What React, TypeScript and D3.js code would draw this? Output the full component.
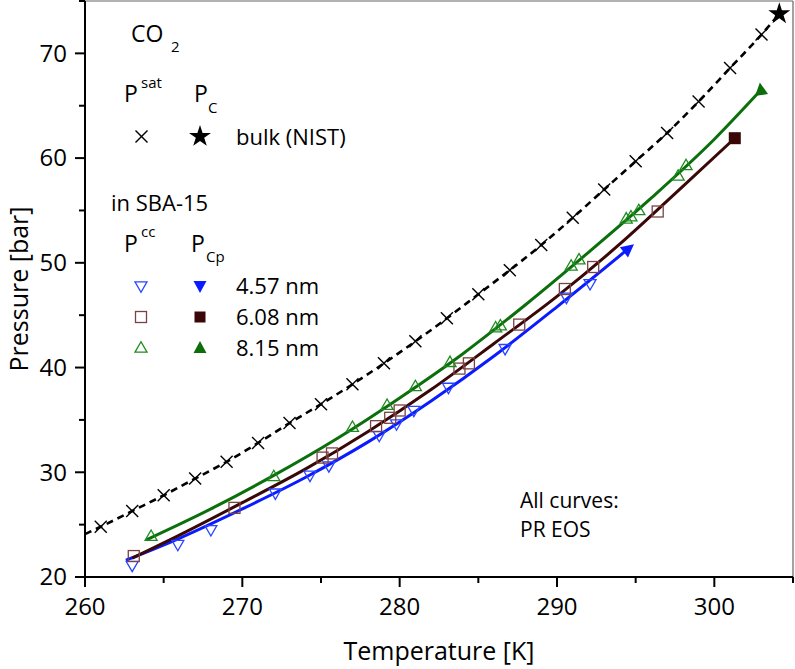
import React from 'react';
import * as d3 from 'd3';

// ---------- data ----------
const xMajorTicks = [260, 270, 280, 290, 300];
const xMinorTicks = [265, 275, 285, 295, 305];
const yMajorTicks = [20, 30, 40, 50, 60, 70];
const yMinorTicks = [25, 35, 45, 55, 65, 75];

// bulk saturation pressure (NIST)
const psatT = [261, 263, 265, 267, 269, 271, 273, 275, 277, 279, 281, 283, 285, 287, 289, 291, 293, 295, 297, 299, 301, 303];
const psatP = [24.8, 26.3, 27.8, 29.4, 31.0, 32.8, 34.7, 36.5, 38.4, 40.4, 42.5, 44.7, 47.0, 49.3, 51.7, 54.3, 57.0, 59.7, 62.4, 65.4, 68.6, 71.8];
// dashed curve (PR EOS, bulk)
const bulkCurveT = [260, 261, 263, 265, 267, 269, 271, 273, 275, 277, 279, 281, 283, 285, 287, 289, 291, 293, 295, 297, 299, 301, 303, 304.13];
const bulkCurveP = [24.1, 24.8, 26.3, 27.8, 29.4, 31.0, 32.8, 34.7, 36.5, 38.4, 40.4, 42.5, 44.7, 47.0, 49.3, 51.7, 54.3, 57.0, 59.7, 62.4, 65.4, 68.6, 71.8, 73.77];
const bulkCritT = 304.13;
const bulkCritP = 73.77;

// 4.57 nm
const p457T = [263.0, 265.9, 268.0, 272.1, 274.3, 275.5, 278.7, 279.8, 280.9, 283.1, 286.7, 290.6, 292.1];
const p457P = [21.1, 23.1, 24.5, 28.0, 29.7, 30.6, 33.5, 34.6, 35.9, 38.1, 41.8, 46.7, 48.0];
const c457T = 294.5;
const c457P = 51.3;
const curve457T = [262.6, 266, 270, 274, 278, 282, 286, 290, 294.5];
const curve457P = [21.6, 23.7, 26.5, 29.5, 32.9, 36.8, 41.1, 45.8, 51.3];

// 6.08 nm
const p608T = [263.1, 269.5, 275.1, 275.7, 278.5, 279.4, 280.0, 283.8, 284.4, 287.6, 290.5, 292.3, 296.4];
const p608P = [22.0, 26.6, 31.4, 31.8, 34.4, 35.2, 35.9, 39.9, 40.4, 44.1, 47.5, 49.6, 54.9];
const c608T = 301.3;
const c608P = 61.9;
const curve608T = [263.0, 266, 270, 274, 278, 282, 286, 290, 294, 298, 301.3];
const curve608P = [21.8, 24.0, 27.1, 30.3, 33.9, 37.9, 42.3, 46.8, 51.8, 57.3, 61.9];

// 8.15 nm
const p815T = [264.2, 272.0, 277.0, 279.2, 281.0, 283.2, 286.1, 286.4, 290.9, 291.4, 294.4, 294.7, 295.2, 297.7, 298.2];
const p815P = [23.9, 29.6, 34.3, 36.4, 38.2, 40.5, 43.8, 44.0, 49.7, 50.3, 54.2, 54.4, 55.0, 58.3, 59.3];
const c815T = 302.96;
const c815P = 66.5;
const curve815T = [263.9, 268, 272, 276, 280, 284, 288, 292, 296, 300, 302.96];
const curve815P = [23.55, 26.5, 29.7, 33.2, 37.1, 41.3, 46.0, 51.0, 56.2, 61.8, 66.5];

const legendSizes = ['4.57 nm', '6.08 nm', '8.15 nm'];

// ---------- styling ----------
const FONT = '"Open Sans", "Noto Sans", sans-serif';
const BLUE_LINE = '#0a1cff';
const BLUE_OPEN = '#2a45ff';
const BROWN_LINE = '#3a0808';
const BROWN_OPEN = '#7a4242';
const BROWN_FILL = '#3a0606';
const GREEN_LINE = '#0b700b';
const GREEN_OPEN = '#1f8a1f';
const GREEN_FILL = '#0b6e0b';

const W = 795;
const H = 669;
const x = d3.scaleLinear().domain([260, 305]).range([85, 793]);
const y = d3.scaleLinear().domain([20, 75]).range([577, 1]);

const zip = (a: number[], b: number[]) => a.map((v, i) => [v, b[i]] as [number, number]);

const lineGen = d3
  .line<[number, number]>()
  .x((d) => x(d[0]))
  .y((d) => y(d[1]))
  .curve(d3.curveMonotoneX);

const TRI_DOWN = 'M-6,-4.2L6,-4.2L0,6.2Z';
const TRI_UP = 'M-6,4.2L6,4.2L0,-6.2Z';

function Cross({ cx, cy }: { cx: number; cy: number }) {
  const s = 6;
  return (
    <g transform={`translate(${cx},${cy})`} stroke="#000" strokeWidth={1.4}>
      <line x1={-s} y1={-s} x2={s} y2={s} />
      <line x1={-s} y1={s} x2={s} y2={-s} />
    </g>
  );
}

const starPath = d3.symbol().type(d3.symbolStar).size(150)() as string;

function OpenTri({ cx, cy, up, color }: { cx: number; cy: number; up: boolean; color: string }) {
  return (
    <path
      d={up ? TRI_UP : TRI_DOWN}
      transform={`translate(${cx},${cy})`}
      fill="none"
      stroke={color}
      strokeWidth={1.3}
    />
  );
}

function OpenSq({ cx, cy, color }: { cx: number; cy: number; color: string }) {
  return <rect x={cx - 5.5} y={cy - 5.5} width={11} height={11} fill="none" stroke={color} strokeWidth={1.3} />;
}

export default function App() {
  const bulkLine = lineGen(zip(bulkCurveT, bulkCurveP)) as string;
  const l457 = lineGen(zip(curve457T, curve457P)) as string;
  const l608 = lineGen(zip(curve608T, curve608P)) as string;
  const l815 = lineGen(zip(curve815T, curve815P)) as string;

  const n = curve457T.length;
  const ang =
    (Math.atan2(
      y(curve457P[n - 1]) - y(curve457P[n - 2]),
      x(curve457T[n - 1]) - x(curve457T[n - 2])
    ) *
      180) /
    Math.PI;

  const [x0, x1] = x.range();
  const [y0, y1] = y.range();

  return (
    <svg
      width={W}
      height={H}
      style={{ position: 'absolute', left: 0, top: 0, background: '#fff' }}
      fontFamily={FONT}
    >
      <rect x={0} y={0} width={W} height={H} fill="#fff" />
      <line x1={x0} y1={y1} x2={x1} y2={y1} stroke="#666" strokeWidth={1.2} />
      <line x1={x1} y1={y1} x2={x1} y2={y0} stroke="#666" strokeWidth={1.2} />

      <path d={bulkLine} fill="none" stroke="#000" strokeWidth={2.6} strokeDasharray="7,5" />
      <path d={l457} fill="none" stroke={BLUE_LINE} strokeWidth={3} />
      <path d={l608} fill="none" stroke={BROWN_LINE} strokeWidth={3} />
      <path d={l815} fill="none" stroke={GREEN_LINE} strokeWidth={3} />

      {psatT.map((t, i) => (
        <Cross key={'c' + i} cx={x(t)} cy={y(psatP[i])} />
      ))}
      {p457T.map((t, i) => (
        <OpenTri key={'b' + i} cx={x(t)} cy={y(p457P[i])} up={false} color={BLUE_OPEN} />
      ))}
      {p608T.map((t, i) => (
        <OpenSq key={'s' + i} cx={x(t)} cy={y(p608P[i])} color={BROWN_OPEN} />
      ))}
      {p815T.map((t, i) => (
        <OpenTri key={'g' + i} cx={x(t)} cy={y(p815P[i])} up={true} color={GREEN_OPEN} />
      ))}

      <path d="M8,0L-5,-6.5L-5,6.5Z" transform={`translate(${x(c457T)},${y(c457P)}) rotate(${ang})`} fill={BLUE_LINE} />
      <rect x={x(c608T) - 6} y={y(c608P) - 6} width={12} height={12} fill={BROWN_FILL} />
      <path d="M-6.5,5L6.5,5L0,-7.5Z" transform={`translate(${x(c815T)},${y(c815P)}) rotate(-8)`} fill={GREEN_FILL} />
      <path d={starPath} transform={`translate(${x(bulkCritT)},${y(bulkCritP)})`} fill="#000" />

      <line x1={x0} y1={y0} x2={x1} y2={y0} stroke="#000" strokeWidth={2} />
      <line x1={x0} y1={y0 + 1} x2={x0} y2={y1} stroke="#000" strokeWidth={2} />
      {xMajorTicks.map((t) => (
        <g key={'xt' + t}>
          <line x1={x(t)} x2={x(t)} y1={y0} y2={y0 + 10} stroke="#000" strokeWidth={2} />
          <text x={x(t)} y={y0 + 38} textAnchor="middle" fontSize={24} fill="#000">
            {String(t)}
          </text>
        </g>
      ))}
      {xMinorTicks.map((t) => (
        <line key={'xm' + t} x1={x(t)} x2={x(t)} y1={y0} y2={y0 + 6} stroke="#000" strokeWidth={2} />
      ))}
      {yMajorTicks.map((t) => (
        <g key={'yt' + t}>
          <line x1={x0 - 10} x2={x0} y1={y(t)} y2={y(t)} stroke="#000" strokeWidth={2} />
          <text x={x0 - 18} y={y(t)} dy="0.35em" textAnchor="end" fontSize={24} fill="#000">
            {String(t)}
          </text>
        </g>
      ))}
      {yMinorTicks.map((t) => (
        <line key={'ym' + t} x1={x0 - 6} x2={x0} y1={y(t)} y2={y(t)} stroke="#000" strokeWidth={2} />
      ))}

      <text x={(x0 + x1) / 2} y={660} textAnchor="middle" fontSize={25} fill="#000">
        Temperature [K]
      </text>
      <text
        transform={`translate(28,${(y0 + y1) / 2}) rotate(-90)`}
        textAnchor="middle"
        fontSize={25}
        fill="#000"
      >
        Pressure [bar]
      </text>

      <g fill="#000">
        <text x={131} y={42} fontSize={23}>CO</text>
        <text x={171} y={52} fontSize={15}>2</text>

        <text x={124} y={102} fontSize={23}>P</text>
        <text x={141} y={88} fontSize={15}>sat</text>
        <text x={194} y={102} fontSize={23}>P</text>
        <text x={208} y={113} fontSize={15}>C</text>

        <Cross cx={141.5} cy={136.5} />
        <path d={starPath} transform="translate(200,136.5)" fill="#000" />
        <text x={236} y={144.5} fontSize={22}>bulk (NIST)</text>

        <text x={111} y={211} fontSize={22}>in SBA-15</text>

        <text x={124} y={252} fontSize={23}>P</text>
        <text x={141} y={237} fontSize={15}>cc</text>
        <text x={191} y={252} fontSize={23}>P</text>
        <text x={206} y={262} fontSize={15}>Cp</text>

        <OpenTri cx={141} cy={286} up={false} color={BLUE_OPEN} />
        <path d="M-6.5,-5L6.5,-5L0,7Z" transform="translate(200,286)" fill={BLUE_LINE} />
        <text x={236} y={294} fontSize={22}>{legendSizes[0]}</text>

        <OpenSq cx={141} cy={317} color={BROWN_OPEN} />
        <rect x={194.5} y={311.5} width={11} height={11} fill={BROWN_FILL} />
        <text x={236} y={325} fontSize={22}>{legendSizes[1]}</text>

        <OpenTri cx={141} cy={348} up={true} color={GREEN_OPEN} />
        <path d="M-6.5,5L6.5,5L0,-7Z" transform="translate(200,348)" fill={GREEN_FILL} />
        <text x={236} y={356} fontSize={22}>{legendSizes[2]}</text>

        <text x={520} y={508} fontSize={21}>All curves:</text>
        <text x={520} y={537} fontSize={21}>PR EOS</text>
      </g>
    </svg>
  );
}
